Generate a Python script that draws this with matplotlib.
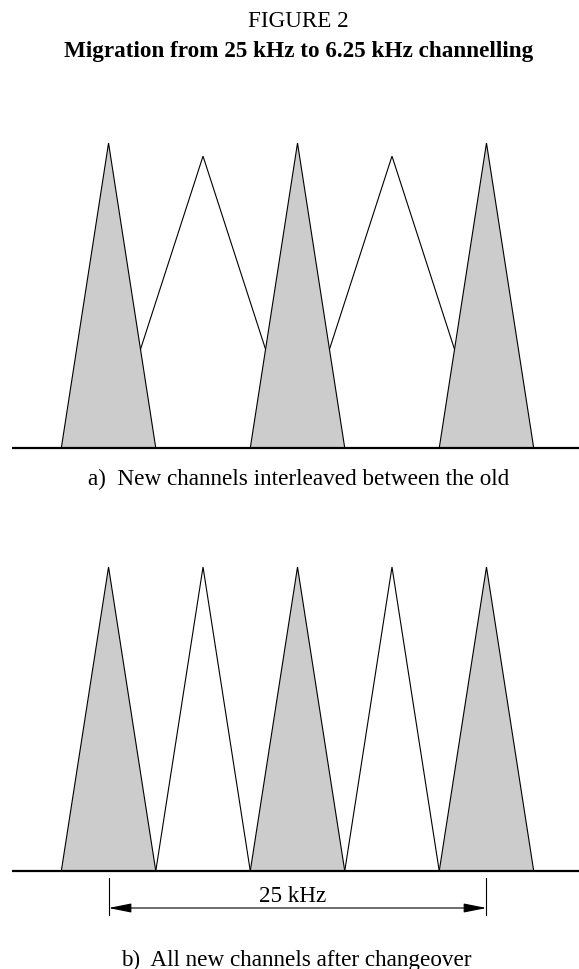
import matplotlib
matplotlib.use('Agg')
import matplotlib.pyplot as plt
from matplotlib.patches import Polygon

plt.rcParams['font.family'] = ['Liberation Serif', 'DejaVu Serif']

# channel centres in kHz (gray = old, white = new)
old_centres = [0.0, 12.5, 25.0]
new_centres = [6.25, 18.75]

# a) interleaved: new channels still wide
a_old_width = 6.25
a_old_height = 1.0
a_new_width = 12.5
a_new_height = 0.957

# b) after changeover: all narrow
b_width = 6.25
b_height = 1.0

span_start = 0.0
span_end = 25.0
span_label = '25 kHz'

title = 'FIGURE 2'
subtitle = 'Migration from 25 kHz to 6.25 kHz channelling'
caption_a = 'a)  New channels interleaved between the old'
caption_b = 'b)  All new channels after changeover'

XLIM = (-7.18, 31.12)
BASE_X = (-6.4, 31.5)
GRAY = '#cccccc'
FS = 16.7


def triangle(ax, centre, width, height, fill):
    pts = [(centre - width / 2, 0), (centre, height), (centre + width / 2, 0)]
    ax.add_patch(Polygon(pts, closed=True, facecolor=fill, edgecolor='black',
                         linewidth=0.8, joinstyle='miter', clip_on=False))


def setup(ax):
    ax.set_xlim(*XLIM)
    ax.set_ylim(0, 1)
    ax.axis('off')


fig = plt.figure(figsize=(5.79, 9.70), dpi=100)

ax1 = fig.add_axes([0, 0.5371, 1, 0.3144])
setup(ax1)
for c in new_centres:
    triangle(ax1, c, a_new_width, a_new_height, 'white')
for c in old_centres:
    triangle(ax1, c, a_old_width, a_old_height, GRAY)
ax1.plot(BASE_X, [0, 0], color='black', lw=1.6, clip_on=False, solid_capstyle='butt')

ax2 = fig.add_axes([0, 0.10103, 1, 0.3134])
setup(ax2)
for c in new_centres:
    triangle(ax2, c, b_width, b_height, 'white')
for c in old_centres:
    triangle(ax2, c, b_width, b_height, GRAY)
ax2.plot(BASE_X, [0, 0], color='black', lw=1.6, clip_on=False, solid_capstyle='butt')

# 25 kHz dimension
for x in (span_start, span_end):
    ax2.plot([x, x], [-0.023, -0.145], color='black', lw=0.8, clip_on=False)
ax2.annotate('', xy=(span_start, -0.1217), xytext=(span_end, -0.1217),
             arrowprops=dict(arrowstyle='<|-|>,head_length=1.0,head_width=0.2',
                             mutation_scale=14, color='black', lw=0.8,
                             shrinkA=0, shrinkB=0),
             annotation_clip=False)
ax2.text((span_start + span_end) / 2 - 0.3, -0.0987, span_label, ha='center',
         va='baseline', fontsize=FS)

fig.text(0.515, 1 - 27 / 970, title, ha='center', va='baseline', fontsize=FS)
fig.text(0.515, 1 - 57 / 970, subtitle, ha='center', va='baseline',
         fontsize=FS, fontweight='bold')
fig.text(0.515, 1 - 485 / 970, caption_a, ha='center', va='baseline', fontsize=FS)
fig.text(0.512, 1 - 966 / 970, caption_b, ha='center', va='baseline', fontsize=FS)

fig.savefig('out.png', dpi=100)
